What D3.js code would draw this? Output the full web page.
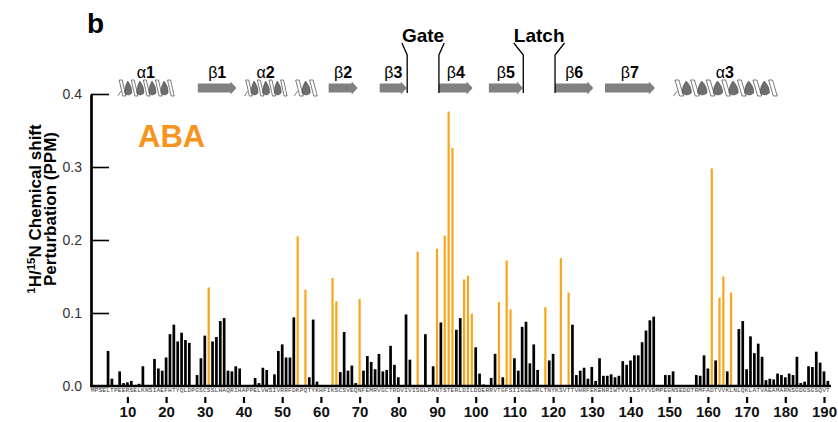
<!DOCTYPE html>
<html>
<head>
<meta charset="utf-8">
<script src="https://cdn.jsdelivr.net/npm/d3@7"></script>
<style>
  body { margin: 0; background: #fff; }
  svg text { font-family: "Liberation Sans", Arial, Helvetica, sans-serif; }
</style>
</head>
<body>
<div id="main"></div>
<script>
// PYR1 sequence, one letter per residue (1..191)
const sequence = "MPSELTPEERSELKNSIAEFHTYQLDPGSCSSLHAQRIHAPPELVWSIVRRFDKPQTYKHFIKSCSVEQNFEMRVGCTRDVIVISGLPANTSTERLDILDDERRVTGFSIIGGEHRLTNYKSVTTVHRFEKENRIWTVVLESYVVDMPEGNSEDDTRMFADTVVKLNLQKLATVAEAMARNSGDGSGSQVT";

// chemical shift perturbation (ppm) per residue, 1..191
const shifts = [
  0, 0, 0, 0, 0.048, 0.010, 0, 0.020, 0.004, 0.005,
  0.007, 0, 0.003, 0.027, 0, 0, 0.037, 0.024, 0.021, 0.039,
  0.071, 0.084, 0.061, 0.073, 0.063, 0.059, 0, 0.015, 0.038, 0.069,
  0.135, 0.061, 0.067, 0.089, 0.093, 0.021, 0.020, 0.027, 0.024, 0,
  0, 0, 0.011, 0.004, 0.025, 0.022, 0, 0.016, 0.048, 0.057,
  0.039, 0.039, 0.094, 0.205, 0, 0.132, 0.012, 0.091, 0.006, 0,
  0, 0, 0.148, 0.116, 0.019, 0.074, 0.021, 0.028, 0.004, 0.119,
  0.021, 0.041, 0.033, 0.023, 0.044, 0.020, 0.022, 0.055, 0.029, 0.012,
  0, 0.098, 0.036, 0, 0.184, 0, 0.071, 0, 0.027, 0.188,
  0.087, 0.206, 0.376, 0.326, 0.077, 0.093, 0.146, 0.151, 0.099, 0.053,
  0.017, 0.002, 0, 0.011, 0.044, 0.115, 0.012, 0.172, 0.105, 0.038,
  0.021, 0.081, 0.088, 0.031, 0.057, 0.022, 0, 0.108, 0.035, 0.044,
  0, 0.175, 0, 0.128, 0.084, 0.015, 0.021, 0.025, 0.010, 0.026,
  0.007, 0.038, 0.014, 0.014, 0.016, 0.012, 0.014, 0.034, 0.029, 0.035,
  0.042, 0.042, 0.060, 0.076, 0.090, 0.095, 0, 0, 0.015, 0.015,
  0.020, 0, 0, 0, 0, 0, 0.015, 0.014, 0.042, 0.024,
  0.298, 0.035, 0.121, 0.150, 0.020, 0.128, 0, 0.078, 0.089, 0.023,
  0.068, 0.045, 0.058, 0.040, 0.008, 0.010, 0.009, 0.017, 0.015, 0.012,
  0.017, 0.015, 0.040, 0.004, 0.006, 0.027, 0.026, 0.047, 0.032, 0.020,
  0.007
];

// residues highlighted in orange (strongly perturbed by ABA)
const abaResidues = [31, 54, 56, 63, 64, 70, 85, 90, 92, 93, 94, 97, 98, 99,
  106, 108, 109, 118, 122, 124, 161, 163, 164, 166];

const xTicks = [10, 20, 30, 40, 50, 60, 70, 80, 90, 100, 110, 120, 130, 140, 150, 160, 170, 180, 190];
const yTicks = [0, 0.1, 0.2, 0.3, 0.4];

// secondary structure, in residue numbers
const helices = [
  {label: "1", start: 8.5, end: 21, turns: 4},
  {label: "2", start: 41.2, end: 50.2, turns: 3},
  {label: "", start: 54.2, end: 57.8, turns: 1},
  {label: "3", start: 152.3, end: 176.5, turns: 6}
];
const strands = [
  {label: "1", start: 28.2, end: 38.2},
  {label: "2", start: 62, end: 69.5},
  {label: "3", start: 75.2, end: 82.2},
  {label: "4", start: 90.5, end: 99.2},
  {label: "5", start: 103.4, end: 112.2},
  {label: "6", start: 120.5, end: 130.4},
  {label: "7", start: 133.4, end: 146.3}
];
const loops = [
  {label: "Gate", start: 82.3, end: 90.5},
  {label: "Latch", start: 112.3, end: 120.5}
];

class GraficoCSP {
  constructor(config) {
    this.config = config;
    this.svg = null;
    this.x = null;
    this.y = null;
    this.createSvg();
  }

  createSvg() {
    this.svg = d3.select(this.config.div)
      .append("svg")
      .attr("width", this.config.width)
      .attr("height", this.config.height);
  }

  createScales() {
    this.x = d3.scaleLinear().domain([10, 190]).range([127.4, 824]);
    this.y = d3.scaleLinear().domain([0, 0.4]).range([386, 94]);
  }

  createAxis() {
    const yAxis = d3.axisLeft(this.y)
      .tickValues(yTicks)
      .tickFormat(d3.format(".1f"))
      .tickSizeInner(-18)
      .tickSizeOuter(0)
      .tickPadding(9);

    this.svg.append("g")
      .attr("transform", `translate(91,0)`)
      .call(yAxis)
      .call(g => g.select(".domain").attr("stroke-width", 2.7))
      .call(g => g.selectAll(".tick line").attr("stroke-width", 1.6))
      .call(g => g.selectAll(".tick text")
        .attr("font-size", 14)
        .attr("fill", "#333")
        .style("font-family", "'Liberation Sans', Arial, sans-serif"));

    const xAxis = d3.axisBottom(this.x)
      .tickValues(xTicks)
      .tickSize(6)
      .tickPadding(3);

    this.svg.append("g")
      .attr("transform", `translate(0,397)`)
      .call(xAxis)
      .call(g => g.select(".domain").remove())
      .call(g => g.selectAll(".tick line").attr("stroke-width", 2.2))
      .call(g => g.selectAll(".tick text")
        .attr("font-size", 15)
        .style("font-weight", "bold")
        .attr("fill", "#111")
        .style("font-family", "'Liberation Sans', Arial, sans-serif"));

    // y title
    const t = this.svg.append("text")
      .attr("transform", "translate(41,209) rotate(-90)")
      .attr("text-anchor", "middle")
      .attr("font-weight", "bold")
      .attr("font-size", 17);
    t.append("tspan").attr("font-size", 11.5).attr("dy", -6).text("1");
    t.append("tspan").attr("dy", 6).text("H/");
    t.append("tspan").attr("font-size", 11.5).attr("dy", -6).text("15");
    t.append("tspan").attr("dy", 6).text("N Chemical shift");

    this.svg.append("text")
      .attr("transform", "translate(56,209) rotate(-90)")
      .attr("text-anchor", "middle")
      .attr("font-weight", "bold")
      .attr("font-size", 17)
      .text("Perturbation (PPM)");
  }

  renderBars() {
    const data = shifts.map((v, i) => ({res: i + 1, v: v, aba: abaResidues.includes(i + 1)}))
      .filter(d => d.v > 0);

    this.svg.append("g").selectAll("rect")
      .data(data)
      .join("rect")
      .attr("x", d => this.x(d.res) - (d.aba ? 1.1 : 1.35))
      .attr("y", d => this.y(d.v))
      .attr("width", d => d.aba ? 2.2 : 2.7)
      .attr("height", d => this.y(0) - this.y(d.v))
      .attr("fill", d => d.aba ? "#F9A51B" : "#000");

    // baseline
    this.svg.append("line")
      .attr("x1", 90).attr("x2", 831)
      .attr("y1", this.y(0)).attr("y2", this.y(0))
      .attr("stroke", "#000")
      .attr("stroke-width", 2.7);

    // sequence
    this.svg.append("g")
      .style("opacity", 0.99)
      .selectAll("text")
      .data(sequence.split(""))
      .join("text")
      .attr("x", (d, i) => this.x(i + 1))
      .attr("y", 391.5)
      .attr("text-anchor", "middle")
      .attr("font-size", 6.2)
      .attr("fill", "#333")
      .style("font-family", "'Liberation Mono', 'DejaVu Sans Mono', monospace")
      .text(d => d);
  }

  renderStructure() {
    const g = this.svg.append("g");
    const yc = 88;

    strands.forEach(s => {
      const x0 = this.x(s.start), x1 = this.x(s.end);
      const bh = 4.5, hh = 6.5, hl = 6;
      g.append("path")
        .attr("d", `M${x0},${yc - bh}H${x1 - hl}V${yc - hh}L${x1},${yc}L${x1 - hl},${yc + hh}V${yc + bh}H${x0}Z`)
        .attr("fill", "#808080");
      this.addLabel(g, "\u03b2", s.label, (x0 + x1) / 2);
    });

    helices.forEach(h => {
      const x0 = this.x(h.start), x1 = this.x(h.end);
      const w = (x1 - x0) / h.turns;
      const yt = 80, yb = 96;
      // back ribbon stripes
      for (let i = 0; i <= h.turns; i++) {
        const xs = x0 + i * w;
        g.append("path")
          .attr("d", `M${xs - w * 0.2},${yt} L${xs + w * 0.05},${yt} L${xs + w * 0.35},${yb} L${xs + w * 0.1},${yb}Z`)
          .attr("fill", "#fff")
          .attr("stroke", "#444")
          .attr("stroke-width", 0.7);
      }
      // leading stroke
      g.append("path")
        .attr("d", `M${x0 - w * 0.3},${yb} L${x0 - w * 0.05},${yb - 5}`)
        .attr("stroke", "#444").attr("stroke-width", 0.7);
      // front leaves
      for (let i = 0; i < h.turns; i++) {
        const cx = x0 + (i + 0.55) * w, hw = w * 0.3;
        g.append("path")
          .attr("d", `M${cx - hw},${yb - 3} Q${cx - hw},${yt + 6} ${cx - 0.5},${yt + 1} Q${cx + hw + 0.5},${yt + 7} ${cx + hw},${yb - 3} Q${cx},${yb + 1} ${cx - hw},${yb - 3}Z`)
          .attr("fill", "#6e6e6e")
          .attr("stroke", "#444")
          .attr("stroke-width", 0.5);
      }
      if (h.label) this.addLabel(g, "\u03b1", h.label, (x0 + x1) / 2);
    });

    loops.forEach(l => {
      const xa = this.x(l.start), xb = this.x(l.end);
      const txt = g.append("text")
        .attr("x", (xa + xb) / 2)
        .attr("y", 41.5)
        .attr("text-anchor", "middle")
        .attr("font-weight", "bold")
        .attr("font-size", 19)
        .text(l.label);
      const bb = txt.node().getBBox();
      g.append("path")
        .attr("d", `M${xa},93 V55 L${bb.x},43 M${xb},93 V55 L${bb.x + bb.width},43`)
        .attr("fill", "none")
        .attr("stroke", "#000")
        .attr("stroke-width", 1.3);
    });
  }

  addLabel(g, greek, num, cx) {
    const t = g.append("text")
      .attr("x", cx)
      .attr("y", 77.5)
      .attr("text-anchor", "middle")
      .attr("font-size", 16);
    t.append("tspan").text(greek);
    t.append("tspan").attr("font-weight", "bold").text(num);
  }

  renderTitles() {
    this.svg.append("text")
      .attr("x", 87)
      .attr("y", 33)
      .attr("font-weight", "bold")
      .attr("font-size", 28)
      .text("b");

    this.svg.append("text")
      .attr("x", 138)
      .attr("y", 147)
      .attr("font-weight", "bold")
      .attr("font-size", 31)
      .attr("fill", "#F7941D")
      .text("ABA");
  }
}

function main() {
  const c = {div: "#main", width: 838, height: 422};
  const a = new GraficoCSP(c);
  a.createScales();
  a.renderBars();
  a.createAxis();
  a.renderStructure();
  a.renderTitles();
}

main();
</script>
</body>
</html>
